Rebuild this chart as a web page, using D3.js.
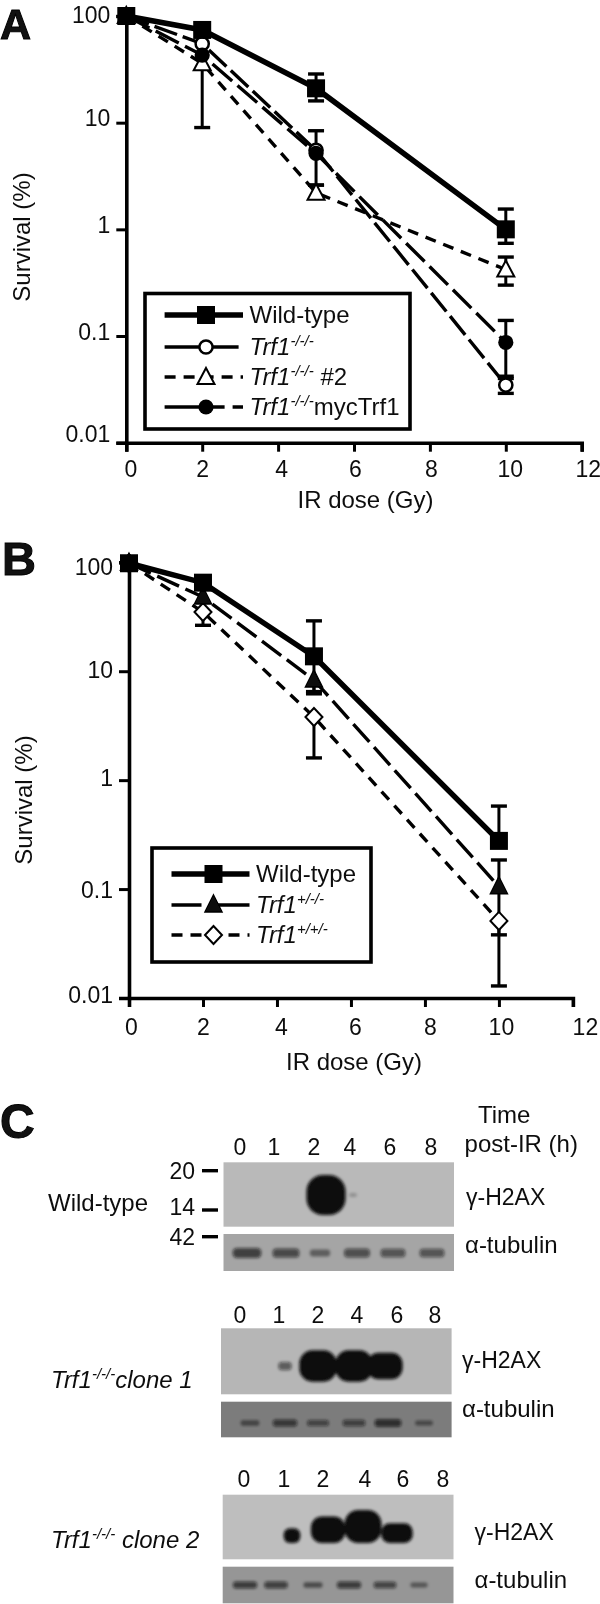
<!DOCTYPE html>
<html><head><meta charset="utf-8">
<script src="https://cdn.jsdelivr.net/npm/d3@7/dist/d3.min.js"></script>
<style>
html,body{margin:0;padding:0;background:#fff}
svg{display:block}
text{font-family:"Liberation Sans",Arial,sans-serif;fill:#111}
</style></head><body>
<svg id="c" width="600" height="1604"></svg>
<script>
// ---------- data ----------
const xTicks=[0,2,4,6,8,10,12];
const yTicks=[100,10,1,0.1,0.01];
const doses=[0,2,5,10];

const aWild=[100,74,21,1.0];
const aWildHi=[null,null,28.6,1.55];
const aWildLo=[null,null,16,0.74];
const aKO=[100,55,5.5,0.0347];
const aKOHi=[null,null,null,0.042];
const aKOLo=[null,null,null,0.029];
const aKO2=[100,36,2.2,0.42];
const aKO2Hi=[null,null,2.6,0.55];
const aKO2Lo=[null,9,null,0.3];
const aMyc=[100,43,5.15,0.087];
const aMycHi=[null,null,8.4,0.14];
const aMycLo=[null,null,2.6,0.04];

const bWild=[98,65,13.7,0.277];
const bWildHi=[null,null,29,0.578];
const bWildLo=[null,null,6.5,null];
const bHet=[98,48,8.3,0.105];
const bHetHi=[null,null,null,0.185];
const bHetLo=[null,null,6.2,0.038];
const bTri=[98,35,3.8,0.051];
const bTriHi=[null,null,null,null];
const bTriLo=[null,26.4,1.6,0.0129];

const laneLabels=["0","1","2","4","6","8"];
const h2axWild=[0,0,1,0.1,0,0];
const h2axClone1=[0,0.25,0.95,0.95,0.8,0];
const h2axClone2=[0,0.45,0.8,1,0.6,0];
const tubWild=[0.8,0.7,0.4,0.65,0.6,0.6];
const tubClone1=[0.45,0.75,0.6,0.65,0.9,0.4];
const tubClone2=[0.8,0.75,0.5,0.8,0.7,0.4];

// ---------- helpers ----------
const svg=d3.select("#c");
const defs=svg.append("defs");
defs.append("filter").attr("id","blurBand").attr("x","-30%").attr("y","-30%").attr("width","160%").attr("height","160%")
  .append("feGaussianBlur").attr("stdDeviation",1.6);
defs.append("filter").attr("id","soft").attr("x","-10%").attr("y","-10%").attr("width","120%").attr("height","120%")
  .append("feGaussianBlur").attr("stdDeviation",0.45);

function rich(sel,parts){
  parts.forEach(p=>{
    const t=sel.append("tspan").text(p.t);
    if(p.i)t.attr("font-style","italic");
    if(p.sup)t.attr("font-size",p.sup).attr("dy",p.dy);
    if(p.dy&&!p.sup)t.attr("dy",p.dy);
  });
}
function marker(g,shape,x,y){
  const sw=2.5;
  if(shape==="square")g.append("rect").attr("x",x-9).attr("y",y-9).attr("width",18).attr("height",18).attr("fill","#000");
  if(shape==="circle")g.append("circle").attr("cx",x).attr("cy",y).attr("r",6.6).attr("fill","#fff").attr("stroke","#000").attr("stroke-width",sw);
  if(shape==="dot")g.append("circle").attr("cx",x).attr("cy",y).attr("r",7.6).attr("fill","#000");
  if(shape==="tri")g.append("path").attr("d",`M${x},${y-9}L${x+8.5},${y+7}L${x-8.5},${y+7}Z`).attr("fill","#fff").attr("stroke","#000").attr("stroke-width",sw-0.5);
  if(shape==="triFill")g.append("path").attr("d",`M${x},${y-10}L${x+8.5},${y+7}L${x-8.5},${y+7}Z`).attr("fill","#111").attr("stroke","#000").attr("stroke-width",1.5);
  if(shape==="diamond")g.append("path").attr("d",`M${x},${y-9}L${x+8.5},${y}L${x},${y+9}L${x-8.5},${y}Z`).attr("fill","#fff").attr("stroke","#000").attr("stroke-width",sw-0.5);
}
function panel(cfg){
  const g=svg.append("g").attr("filter","url(#soft)");
  const x=d3.scaleLinear().domain([0,12]).range(cfg.xr);
  const y=d3.scaleLog().domain([0.01,100]).range(cfg.yr);
  const ax=g.append("g").attr("transform",`translate(0,${cfg.yr[0]})`)
    .call(d3.axisBottom(x).tickValues(xTicks).tickSize(9).tickPadding(cfg.xpad).tickFormat(d3.format("d")));
  const ay=g.append("g").attr("transform",`translate(${cfg.xr[0]},0)`)
    .call(d3.axisLeft(y).tickValues(yTicks).tickSize(10).tickPadding(cfg.ypad).tickFormat(d=>String(d)));
  [ax,ay].forEach(a=>{
    a.selectAll(".domain").attr("stroke","#000").attr("stroke-width",3.6);
    a.selectAll(".tick line").attr("stroke","#000").attr("stroke-width",3);
    a.selectAll("text").attr("font-size",23).attr("fill","#111");
  });
  ax.selectAll("text").attr("dx",(d,i)=>cfg.xdx[i]);
  ay.selectAll("text").attr("dy",(d,i)=>cfg.ydy[i]);
  const line=d3.line().x((d,i)=>x(doses[i])).y(d=>y(d));
  cfg.series.forEach(s=>{
    g.append("path").attr("d",line(s.v)).attr("fill","none").attr("stroke","#000")
      .attr("stroke-width",s.w).attr("stroke-dasharray",s.dash||null);
  });
  cfg.series.forEach(s=>{
    doses.forEach((dose,i)=>{
      const cx=x(dose);
      [s.hi[i],s.lo[i]].forEach(val=>{
        if(val==null)return;
        g.append("line").attr("x1",cx).attr("x2",cx).attr("y1",y(s.v[i])).attr("y2",y(val)).attr("stroke","#000").attr("stroke-width",3);
        g.append("line").attr("x1",cx-8).attr("x2",cx+8).attr("y1",y(val)).attr("y2",y(val)).attr("stroke","#000").attr("stroke-width",3.4);
      });
    });
  });
  cfg.order.forEach(k=>{
    const s=cfg.series[k];
    s.v.forEach((v,i)=>marker(g,s.m,x(doses[i]),y(v)));
  });
  g.append("text").attr("x",cfg.xl[0]).attr("y",cfg.xl[1]).attr("text-anchor","middle").attr("font-size",24).text("IR dose (Gy)");
  g.append("text").attr("transform",`translate(${cfg.yl[0]},${cfg.yl[1]}) rotate(-90)`).attr("text-anchor","middle").attr("font-size",24).text("Survival (%)");
  const L=cfg.legend;
  g.append("rect").attr("x",L.x0).attr("y",L.y0).attr("width",L.x1-L.x0).attr("height",L.y1-L.y0).attr("fill","#fff").attr("stroke","#000").attr("stroke-width",3.6);
  cfg.series.forEach((s,i)=>{
    const ry=L.rows[i];
    g.append("line").attr("x1",L.lx0).attr("x2",L.lx1).attr("y1",ry).attr("y2",ry).attr("stroke","#000").attr("stroke-width",s.w).attr("stroke-dasharray",s.ldash||null);
    marker(g,s.m,L.mx,ry);
    const t=g.append("text").attr("x",L.tx).attr("y",ry+8).attr("font-size",24);
    rich(t,s.label);
  });
}
const KO=[{t:"Trf1",i:true},{t:"-/-/-",i:true,sup:15,dy:-9}];

panel({
  xr:[126.3,581.7],yr:[442.7,16],xpad:9,ypad:6,
  xdx:[4,0,3,1,1,4,6],ydy:[6,3,3,3,-1],
  xl:[365.5,508],yl:[30,237],order:[1,2,3,0],
  series:[
    {v:aWild,hi:aWildHi,lo:aWildLo,w:5.5,m:"square",label:[{t:"Wild-type"}]},
    {v:aKO,hi:aKOHi,lo:aKOLo,w:3.4,dash:"24,6",ldash:"74",m:"circle",label:KO},
    {v:aKO2,hi:aKO2Hi,lo:aKO2Lo,w:3.4,dash:"11,8",ldash:"11,8",m:"tri",label:[...KO,{t:" #2",dy:9}]},
    {v:aMyc,hi:aMycHi,lo:aMycLo,w:3.4,dash:"26,7",ldash:"60,8,11,100",m:"dot",label:[...KO,{t:"mycTrf1",dy:9}]}
  ],
  legend:{x0:145,x1:410,y0:293.5,y1:429,rows:[315,347,377,407],lx0:164.6,lx1:243,mx:206,tx:249.5}
});
const HET=s=>[{t:"Trf1",i:true},{t:s,i:true,sup:15,dy:-9}];
panel({
  xr:[129,572.9],yr:[998,562.3],xpad:12,ypad:6,
  xdx:[2,0,4,4,5,2,12],ydy:[12,6,5,8,4],
  xl:[354,1070],yl:[32,800],order:[2,1,0],
  series:[
    {v:bWild,hi:bWildHi,lo:bWildLo,w:5.5,m:"square",label:[{t:"Wild-type"}]},
    {v:bHet,hi:bHetHi,lo:bHetLo,w:3.4,dash:"24,7",ldash:"30,8,200",m:"triFill",label:HET("+/-/-")},
    {v:bTri,hi:bTriHi,lo:bTriLo,w:3.4,dash:"11,8",ldash:"11,8",m:"diamond",label:HET("+/+/-")}
  ],
  legend:{x0:152,x1:371,y0:848,y1:962,rows:[874,905,935],lx0:171.5,lx1:249.5,mx:213.5,tx:256}
});

// ---------- panel letters ----------
[["A",0,39,43],["B",2,575,47],["C",0,1138,48]].forEach(d=>{
  svg.append("text").attr("x",d[1]).attr("y",d[2]).attr("font-size",d[3]).attr("font-weight",700)
    .attr("fill","#000").attr("stroke","#000").attr("stroke-width",1).text(d[0]);
});

// ---------- blots ----------
function blot(cfg){
  const g=svg.append("g").attr("filter","url(#soft)");
  const lane=d3.scaleOrdinal().domain(d3.range(6)).range(cfg.lanes);
  const w=cfg.tub?d3.scaleSqrt().domain([0,1]).range([0,cfg.bw])
    :d3.scaleLinear().domain([0,.15,.45,.6,1]).range([0,.3,.45,.85,1].map(k=>k*cfg.bw));
  const h=cfg.tub?d3.scaleSqrt().domain([0,1]).range([0,cfg.bh])
    :d3.scaleLinear().domain([0,1]).range([0,cfg.bh]);
  const op=v=>cfg.tub?0.2+v*0.6:Math.min(1,v*2.2);
  g.append("rect").attr("x",cfg.x0).attr("y",cfg.y0).attr("width",cfg.x1-cfg.x0).attr("height",cfg.y1-cfg.y0).attr("fill",cfg.bg);
  const clip="c"+cfg.id;
  defs.append("clipPath").attr("id",clip).append("rect").attr("x",cfg.x0).attr("y",cfg.y0).attr("width",cfg.x1-cfg.x0).attr("height",cfg.y1-cfg.y0);
  g.append("g").attr("clip-path",`url(#${clip})`).append("g").attr("filter","url(#blurBand)")
   .selectAll("rect").data(cfg.vals.map((v,i)=>({v,i})).filter(d=>d.v>0)).join("rect")
    .attr("x",d=>lane(d.i)-w(d.v)/2).attr("width",d=>w(d.v))
    .attr("y",d=>cfg.yc!=null?cfg.yc-h(d.v)/2:cfg.yb-h(d.v)).attr("height",d=>h(d.v))
    .attr("rx",d=>Math.min(w(d.v),h(d.v))*0.42)
    .attr("fill","#0c0c0c")
    .attr("opacity",d=>op(d.v));
}
function lanes(y,xs){
  xs.forEach((x,i)=>svg.append("text").attr("x",x).attr("y",y).attr("text-anchor","middle").attr("font-size",23).attr("filter","url(#soft)").text(laneLabels[i]));
}
function label(x,y,parts,size){
  const t=svg.append("text").attr("x",x).attr("y",y).attr("font-size",size||24).attr("filter","url(#soft)");
  rich(t,parts);
}
// wild-type
lanes(1155,[240,274,314,350,390,431]);
blot({id:"w1",x0:223.5,x1:454,y0:1162.3,y1:1226.7,bg:"#b9b9b9",yc:1195,bw:39,bh:40,vals:h2axWild,lanes:[240,274,326,353,390,431]});
blot({id:"w2",x0:223.5,x1:454,y0:1234,y1:1271,bg:"#a5a5a5",yc:1253,tub:true,bw:32,bh:11,vals:tubWild,lanes:[247,286,320,357,393,432]});
// clone 1
lanes(1322.7,[240,279,318,357,397,435]);
blot({id:"a1",x0:221,x1:451.6,y0:1328.3,y1:1394.3,bg:"#b6b6b6",yc:1366,bw:38,bh:33,vals:h2axClone1,lanes:[240,285,318,354,385,425]});
blot({id:"a2",x0:221,x1:451.6,y0:1401.7,y1:1437.3,bg:"#7c7c7c",yc:1423,tub:true,bw:28,bh:8,vals:tubClone1,lanes:[250,285,318,354,388,424]});
// clone 2
lanes(1486.7,[244,284,323,365,403,443]);
blot({id:"b1",x0:222.7,x1:453.5,y0:1494.7,y1:1559.3,bg:"#bebebe",yb:1543,bw:37,bh:33,vals:h2axClone2,lanes:[245,292,328,363,397,440]});
blot({id:"b2",x0:222.7,x1:453.5,y0:1566.7,y1:1603.3,bg:"#969696",yc:1585,tub:true,bw:27,bh:8,vals:tubClone2,lanes:[245,276,313,349,385,419]});

// ---------- blot labels ----------
label(48,1211,[{t:"Wild-type"}]);
label(51,1388,[...KO,{t:"clone 1",i:true,dy:9}]);
label(51,1548,[{t:"Trf1",i:true},{t:"-/-/-",i:true,sup:15,dy:-9},{t:" clone 2",i:true,dy:9}]);
label(478,1122.7,[{t:"Time"}]);
label(464.6,1152,[{t:"post-IR (h)"}]);
label(466,1205,[{t:"γ-H2AX"}],23);
label(465,1253,[{t:"α-tubulin"}]);
label(462,1368,[{t:"γ-H2AX"}],23);
label(462,1416.7,[{t:"α-tubulin"}]);
label(474.5,1540,[{t:"γ-H2AX"}],23);
label(474.5,1588,[{t:"α-tubulin"}]);
[["20",1179,1170.7],["14",1215,1210],["42",1245,1236.7]].forEach(d=>{
  svg.append("text").attr("x",195).attr("y",d[1]).attr("text-anchor","end").attr("font-size",23).attr("filter","url(#soft)").text(d[0]);
  svg.append("line").attr("x1",202).attr("x2",218).attr("y1",d[2]).attr("y2",d[2]).attr("stroke","#000").attr("stroke-width",3.4);
});
</script>
</body></html>
